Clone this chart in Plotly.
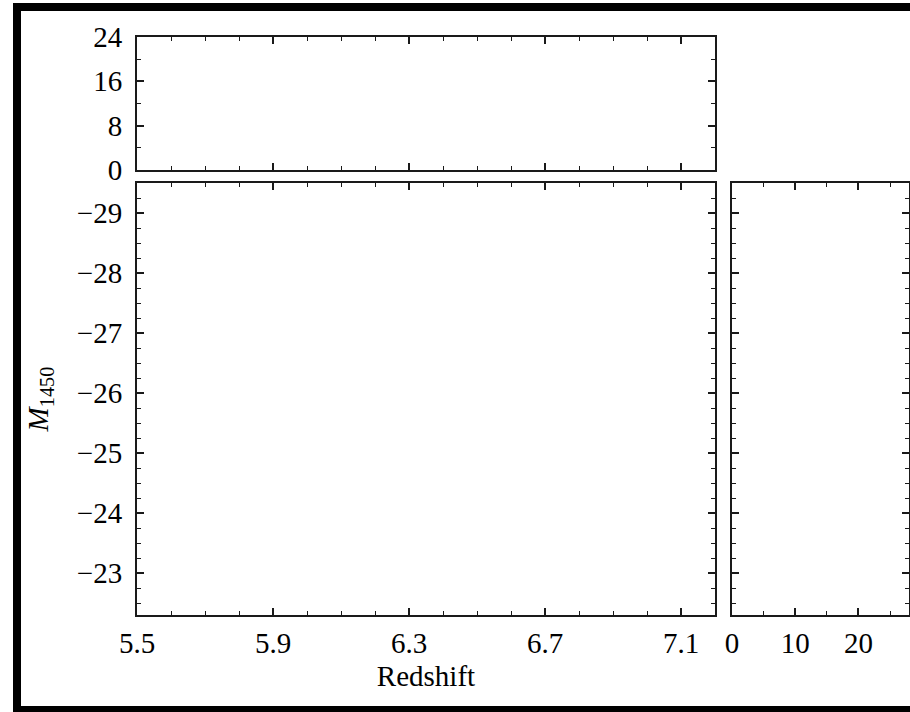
import plotly.graph_objects as go

# Data (the reference panels are empty)
redshift = []
m1450 = []
hist_z_counts = []
hist_m_counts = []

# Tick labels
z_ticks = [5.5, 5.9, 6.3, 6.7, 7.1]
z_ticktext = ["5.5", "5.9", "6.3", "6.7", "7.1"]
m_ticks = [-29, -28, -27, -26, -25, -24, -23]
m_ticktext = ["\u221229", "\u221228", "\u221227", "\u221226", "\u221225", "\u221224", "\u221223"]
nz_ticks = [0, 8, 16, 24]
nz_ticktext = ["0", "8", "16", "24"]
nm_ticks = [0, 10, 20]
nm_ticktext = ["0", "10", "20"]

W, H = 910, 712
def px(x):
    return x / W
def py(y):
    return 1 - y / H

FONT = "Liberation Serif"
LC = "#1a1a1a"
FS = 29

fig = go.Figure()
fig.add_trace(go.Scatter(x=redshift, y=m1450, mode="markers", xaxis="x", yaxis="y",
                         marker=dict(color="black"), showlegend=False))
fig.add_trace(go.Bar(x=redshift, y=hist_z_counts, xaxis="x2", yaxis="y2", showlegend=False))
fig.add_trace(go.Bar(x=hist_m_counts, y=m1450, orientation="h", xaxis="x3", yaxis="y3",
                     showlegend=False))

common = dict(showline=True, linecolor=LC, linewidth=2, mirror="allticks",
              ticks="inside", ticklen=7, tickwidth=1.5, tickcolor=LC,
              showgrid=False, zeroline=False, automargin=False,
              tickfont=dict(family=FONT, size=FS, color="black"))
minor_style = dict(ticks="inside", ticklen=4, tickcolor=LC, tickwidth=1.2)

fig.update_layout(
    width=W, height=H,
    margin=dict(l=0, r=0, t=0, b=0),
    paper_bgcolor="white", plot_bgcolor="white",
    xaxis=dict(domain=[px(137), px(715)], anchor="y", range=[5.5, 7.2],
               tickmode="array", tickvals=z_ticks, ticktext=z_ticktext,
               minor=dict(dtick=0.1, tick0=5.5, **minor_style),
               ticklabelstandoff=1,
               title=dict(text="Redshift", font=dict(family=FONT, size=FS, color="black"), standoff=8),
               **common),
    yaxis=dict(domain=[py(615), py(183)], anchor="x", range=[-22.3, -29.5],
               tickmode="array", tickvals=m_ticks, ticktext=m_ticktext,
               minor=dict(dtick=0.25, tick0=-29, **minor_style),
               ticklabelstandoff=7,
               title=dict(text="<i>M</i><sub>1450</sub>", font=dict(family=FONT, size=FS, color="black"), standoff=20),
               **common),
    xaxis2=dict(domain=[px(137), px(715)], anchor="y2", range=[5.5, 7.2], matches="x",
                tickmode="array", tickvals=z_ticks, showticklabels=False,
                minor=dict(dtick=0.1, tick0=5.5, **minor_style),
                **common),
    yaxis2=dict(domain=[py(170), py(37)], anchor="x2", range=[0, 24],
                tickmode="array", tickvals=nz_ticks, ticktext=nz_ticktext,
                minor=dict(dtick=4, tick0=0, **minor_style),
                ticklabelstandoff=7,
                **common),
    xaxis3=dict(domain=[px(732), px(909)], anchor="y3", range=[0, 28],
                tickmode="array", tickvals=nm_ticks, ticktext=nm_ticktext,
                minor=dict(dtick=5, tick0=0, **minor_style),
                ticklabelstandoff=1,
                **common),
    yaxis3=dict(domain=[py(615), py(183)], anchor="x3", range=[-22.3, -29.5], matches="y",
                tickmode="array", tickvals=m_ticks, showticklabels=False,
                minor=dict(dtick=0.25, tick0=-29, **minor_style),
                **common),
)

# Thick black frame around the figure (cropped on the right)
frame = [
    (13, 3, 910, 11),     # top
    (13, 3, 21, 712),     # left
    (13, 706, 910, 712),  # bottom
]
for x0, y0, x1, y1 in frame:
    fig.add_shape(type="rect", xref="paper", yref="paper",
                  x0=px(x0), x1=px(x1), y0=py(y1), y1=py(y0),
                  fillcolor="black", line=dict(width=0), layer="above")

fig.write_html("out.html")
